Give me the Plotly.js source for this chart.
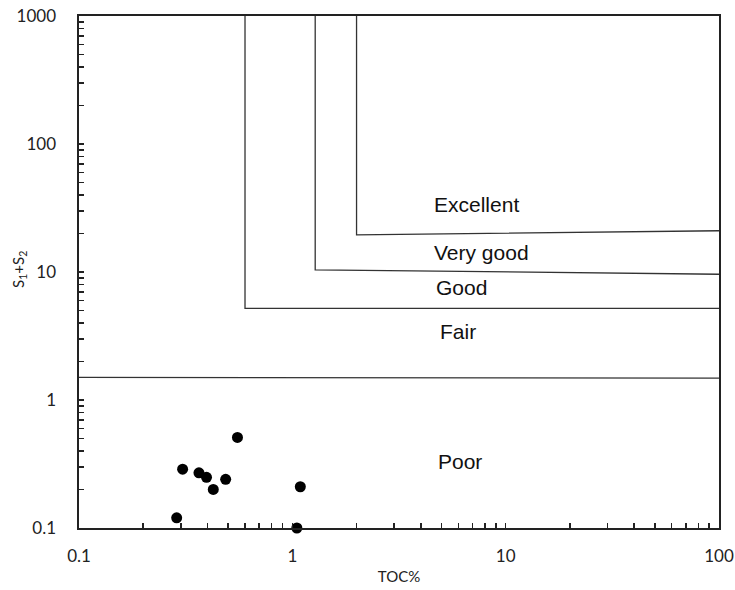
<!DOCTYPE html>
<html>
<head>
<meta charset="utf-8">
<script src="https://cdn.plot.ly/plotly-3.0.1.min.js"></script>
<style>html,body{margin:0;padding:0;background:#fff;}#chart{width:735px;height:590px;}</style>
</head>
<body>
<div id="chart"></div>
<script>
// Sample data (TOC %, S1+S2)
const tocValues = [0.287, 0.306, 0.365, 0.396, 0.426, 0.487, 0.553, 1.05, 1.09];
const s1s2Values = [0.12, 0.288, 0.27, 0.249, 0.20, 0.24, 0.51, 0.10, 0.21];

// Classification boundary lines (TOC, S1+S2)
const poorLineX = [0.1, 100];
const poorLineY = [1.5, 1.48];
const fairLineX = [0.6, 0.6, 100];
const fairLineY = [1000, 5.2, 5.2];
const goodLineX = [1.28, 1.28, 100];
const goodLineY = [1000, 10.4, 9.6];
const vgoodLineX = [2.0, 2.0, 100];
const vgoodLineY = [1000, 19.5, 21];

// Zone labels
const zoneNames = ['Excellent', 'Very good', 'Good', 'Fair', 'Poor'];
const zoneX = [4.5, 4.5, 4.6, 4.8, 4.7];
const zoneY = [33.4, 14.1, 7.5, 3.4, 0.333];

// Axis ticks: labelled decades plus unlabelled intermediate ticks
const xDecades = [0.1, 1, 10, 100];
const xDecadeText = ['0.1', '1', '10', '100'];
const yDecades = [0.1, 1, 10, 100, 1000];
const yDecadeText = ['0.1', '1', '10', '100', '1000'];
const minorSteps = [1, 2, 3, 4, 5, 6, 7, 8, 9];

function buildTicks(decades, labels) {
  const vals = [], text = [];
  decades.forEach((d, i) => {
    if (i === decades.length - 1) { vals.push(d); text.push(labels[i]); return; }
    minorSteps.forEach(m => {
      vals.push(+(d * m).toPrecision(3));
      text.push(m === 1 ? labels[i] : '');
    });
  });
  return {vals, text};
}
const xT = buildTicks(xDecades, xDecadeText);
const yT = buildTicks(yDecades, yDecadeText);

const lineStyle = {color: '#333', width: 1.3};
const traces = [
  {x: poorLineX, y: poorLineY, mode: 'lines', line: lineStyle, hoverinfo: 'skip'},
  {x: fairLineX, y: fairLineY, mode: 'lines', line: lineStyle, hoverinfo: 'skip'},
  {x: goodLineX, y: goodLineY, mode: 'lines', line: lineStyle, hoverinfo: 'skip'},
  {x: vgoodLineX, y: vgoodLineY, mode: 'lines', line: lineStyle, hoverinfo: 'skip'},
  {x: tocValues, y: s1s2Values, mode: 'markers', marker: {color: '#000', size: 11}, cliponaxis: false}
];

const annotations = zoneNames.map((n, i) => ({
  x: Math.log10(zoneX[i]), y: Math.log10(zoneY[i]), xref: 'x', yref: 'y',
  text: n, showarrow: false, xanchor: 'left', yanchor: 'middle',
  font: {family: 'Liberation Sans, Arial, sans-serif', size: 21, color: '#111'}
}));
annotations.push({
  x: -0.093, y: 0.505, xref: 'paper', yref: 'paper', text: 'S<sub>1</sub>+S<sub>2</sub>',
  showarrow: false, textangle: -90, xanchor: 'center', yanchor: 'middle',
  font: {family: 'Lato, sans-serif', size: 15, color: '#222'}
});

const axisCommon = {
  type: 'log', showgrid: false, zeroline: false, showline: true, mirror: true,
  linecolor: '#222', linewidth: 1.6, ticks: 'inside', ticklen: 5, tickcolor: '#222', tickwidth: 1.6,
  tickangle: 0,
  tickfont: {family: 'Lato, sans-serif', size: 17, color: '#222'}
};

const layout = {
  width: 735, height: 590,
  margin: {l: 79, r: 16, t: 16, b: 62},
  paper_bgcolor: '#fff', plot_bgcolor: '#fff',
  showlegend: false,
  xaxis: Object.assign({}, axisCommon, {
    range: [-1, 2], tickmode: 'array', tickvals: xT.vals, ticktext: xT.text, ticklabelstandoff: 12,
    title: {text: 'TOC%', font: {family: 'Lato, sans-serif', size: 15, color: '#222'}, standoff: 6}
  }),
  yaxis: Object.assign({}, axisCommon, {
    range: [-1, 3], tickmode: 'array', tickvals: yT.vals, ticktext: yT.text, ticklabelstandoff: 18
  }),
  annotations: annotations
};

Plotly.newPlot('chart', traces, layout, {displayModeBar: false, staticPlot: true});
</script>
</body>
</html>
